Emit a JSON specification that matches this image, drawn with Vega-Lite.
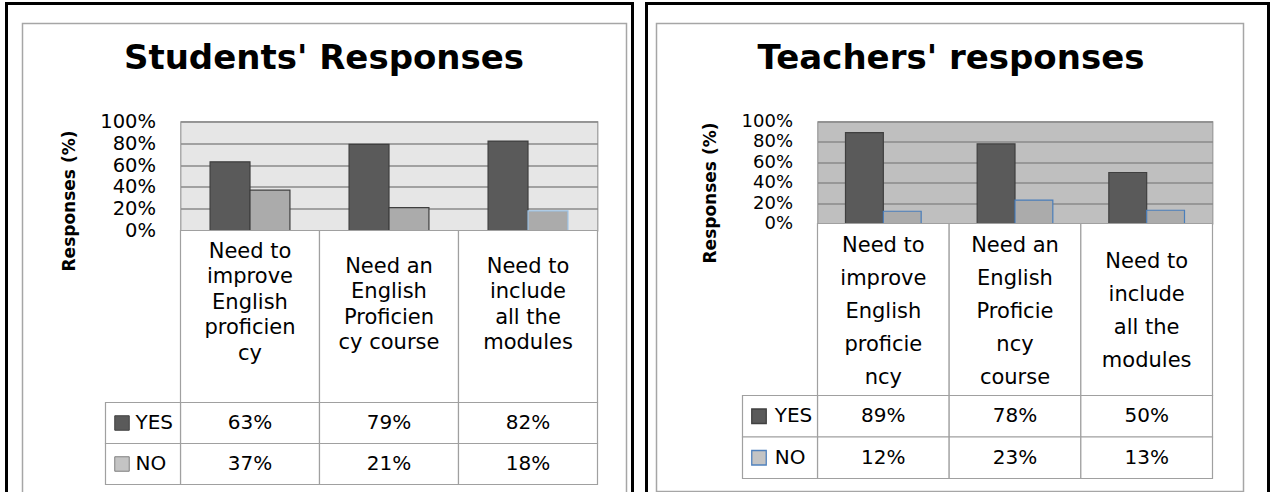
{
  "$schema": "https://vega.github.io/schema/vega-lite/v6.json",
  "background": "white",
  "autosize": {"type": "pad"},
  "padding": {"left": 3.5, "top": 0.5, "right": 0, "bottom": 0},
  "bounds": "flush",
  "spacing": 220,
  "config": {
    "font": "DejaVu Sans",
    "text": {"font": "DejaVu Sans", "color": "black"}
  },
  "datasets": {
    "students": [
      {"cat": "Need to improve English proficiency", "series": "YES", "value": 0.63},
      {"cat": "Need an English Proficiency course", "series": "YES", "value": 0.79},
      {"cat": "Need to include all the modules", "series": "YES", "value": 0.82},
      {"cat": "Need to improve English proficiency", "series": "NO", "value": 0.37},
      {"cat": "Need an English Proficiency course", "series": "NO", "value": 0.21},
      {"cat": "Need to include all the modules", "series": "NO", "value": 0.18}
    ],
    "teachers": [
      {"cat": "Need to improve English proficiency", "series": "YES", "value": 0.89},
      {"cat": "Need an English Proficiency course", "series": "YES", "value": 0.78},
      {"cat": "Need to include all the modules", "series": "YES", "value": 0.50},
      {"cat": "Need to improve English proficiency", "series": "NO", "value": 0.12},
      {"cat": "Need an English Proficiency course", "series": "NO", "value": 0.23},
      {"cat": "Need to include all the modules", "series": "NO", "value": 0.13}
    ],
    "catsS": [
      {"cat": "Need to improve English proficiency", "label": "Need to\nimprove\nEnglish\nproficien\ncy"},
      {"cat": "Need an English Proficiency course", "label": "Need an\nEnglish\nProficien\ncy course"},
      {"cat": "Need to include all the modules", "label": "Need to\ninclude\nall the\nmodules"}
    ],
    "catsT": [
      {"cat": "Need to improve English proficiency", "label": "Need to\nimprove\nEnglish\nproficie\nncy"},
      {"cat": "Need an English Proficiency course", "label": "Need an\nEnglish\nProficie\nncy\ncourse"},
      {"cat": "Need to include all the modules", "label": "Need to\ninclude\nall the\nmodules"}
    ],
    "series": [{"series": "YES", "col": "legend"}, {"series": "NO", "col": "legend"}],
    "box": [{"box": "b"}]
  },
  "hconcat": [
    {
      "width": 417,
      "height": 109,
      "view": {"fill": "#E6E6E6", "stroke": "#9A9A9A", "strokeWidth": 1.2},
      "title": {"text": "Students' Responses", "font": "DejaVu Sans", "fontSize": 34, "fontWeight": "bold", "color": "black", "anchor": "middle", "baseline": "alphabetic", "offset": -101, "dx": -65},
      "resolve": {"scale": {"x": "independent", "y": "independent", "xOffset": "independent", "color": "independent", "fill": "independent", "stroke": "independent"}, "axis": {"x": "independent", "y": "independent"}},
      "layer": [
        {
          "data": {"name": "box"},
          "mark": {"type": "rect", "fill": null, "fillOpacity": 0, "stroke": "black", "strokeWidth": 3},
          "encoding": {
            "x": {"field": "box", "type": "nominal", "axis": null, "scale": {"domain": ["b"], "range": [-174, 452], "paddingInner": 0, "paddingOuter": 0}},
            "y": {"field": "box", "type": "nominal", "axis": null, "scale": {"domain": ["b"], "range": [-118, 420], "paddingInner": 0, "paddingOuter": 0}}
          }
        },
        {
          "data": {"name": "box"},
          "mark": {"type": "rect", "fill": null, "fillOpacity": 0, "stroke": "#A6A6A6", "strokeWidth": 1.5},
          "encoding": {
            "x": {"field": "box", "type": "nominal", "axis": null, "scale": {"domain": ["b"], "range": [-158, 446], "paddingInner": 0, "paddingOuter": 0}},
            "y": {"field": "box", "type": "nominal", "axis": null, "scale": {"domain": ["b"], "range": [-98, 420], "paddingInner": 0, "paddingOuter": 0}}
          }
        },
        {
          "data": {"name": "students"},
          "mark": {"type": "bar", "strokeWidth": 1.2},
          "encoding": {
            "x": {"field": "cat", "type": "nominal", "axis": null, "scale": {"domain": ["Need to improve English proficiency", "Need an English Proficiency course", "Need to include all the modules"], "paddingInner": 0, "paddingOuter": 0}},
            "xOffset": {"field": "series", "type": "nominal", "scale": {"domain": ["YES", "NO"], "paddingInner": 0, "paddingOuter": 0.74}},
            "y": {"field": "value", "type": "quantitative", "scale": {"domain": [0, 1]},
              "axis": {"title": "Responses (%)", "format": ".0%", "values": [0, 0.2, 0.4, 0.6, 0.8, 1], "grid": true, "gridColor": "#8A8A8A", "gridWidth": 1.3, "domain": false, "ticks": false, "tickSize": 0, "labelPadding": 25, "labelFont": "DejaVu Sans", "labelFontSize": 19.5, "labelColor": "black", "labelFlush": false, "labelOverlap": false, "titleFont": "DejaVu Sans", "titleFontSize": 17, "titleFontWeight": "bold", "titleColor": "black", "titleX": -111, "titleY": 79, "titleAngle": -90, "titleAlign": "center", "titleBaseline": "middle"}},
            "color": {"field": "series", "type": "nominal", "legend": null, "scale": {"domain": ["YES", "NO"], "range": ["#5A5A5A", "#ABABAB"]}},
            "stroke": {"condition": [{"test": "datum.series === 'NO' && datum.cat === 'Need to include all the modules'", "value": "#9DC3E6"}], "value": "#3F3F3F"}
          }
        },
        {
          "data": {"name": "catsS"},
          "mark": {"type": "rect", "fill": "white", "stroke": "#A0A0A0", "strokeWidth": 1.2},
          "encoding": {
            "x": {"field": "cat", "type": "nominal", "axis": null, "scale": {"domain": ["Need to improve English proficiency", "Need an English Proficiency course", "Need to include all the modules"], "paddingInner": 0, "paddingOuter": 0}},
            "y": {"datum": "h", "type": "nominal", "axis": null, "scale": {"domain": ["h"], "range": [109, 281], "paddingInner": 0, "paddingOuter": 0}}
          }
        },
        {
          "data": {"name": "catsS"},
          "transform": [{"filter": "length(split(datum.label, '\\n')) == 5"}],
          "mark": {"type": "text", "fontSize": 21, "lineHeight": 25.5, "lineBreak": "\n", "align": "center", "baseline": "middle", "dy": -65, "color": "black"},
          "encoding": {
            "x": {"field": "cat", "type": "nominal", "axis": null, "scale": {"type": "band", "domain": ["Need to improve English proficiency", "Need an English Proficiency course", "Need to include all the modules"], "paddingInner": 0, "paddingOuter": 0}},
            "y": {"datum": "h", "type": "nominal", "axis": null, "scale": {"type": "band", "domain": ["h"], "range": [109, 281], "paddingInner": 0, "paddingOuter": 0}},
            "text": {"field": "label", "type": "nominal"}
          }
        },
        {
          "data": {"name": "catsS"},
          "transform": [{"filter": "length(split(datum.label, '\\n')) == 4"}],
          "mark": {"type": "text", "fontSize": 21, "lineHeight": 25.5, "lineBreak": "\n", "align": "center", "baseline": "middle", "dy": -50, "color": "black"},
          "encoding": {
            "x": {"field": "cat", "type": "nominal", "axis": null, "scale": {"type": "band", "domain": ["Need to improve English proficiency", "Need an English Proficiency course", "Need to include all the modules"], "paddingInner": 0, "paddingOuter": 0}},
            "y": {"datum": "h", "type": "nominal", "axis": null, "scale": {"type": "band", "domain": ["h"], "range": [109, 281], "paddingInner": 0, "paddingOuter": 0}},
            "text": {"field": "label", "type": "nominal"}
          }
        },
        {
          "data": {"name": "students"},
          "mark": {"type": "rect", "fill": "white", "stroke": "#A0A0A0", "strokeWidth": 1.2},
          "encoding": {
            "x": {"field": "cat", "type": "nominal", "axis": null, "scale": {"domain": ["Need to improve English proficiency", "Need an English Proficiency course", "Need to include all the modules"], "paddingInner": 0, "paddingOuter": 0}},
            "y": {"field": "series", "type": "nominal", "axis": null, "scale": {"domain": ["YES", "NO"], "range": [281, 363], "paddingInner": 0, "paddingOuter": 0}}
          }
        },
        {
          "data": {"name": "students"},
          "mark": {"type": "text", "fontSize": 20, "align": "center", "baseline": "middle", "color": "black"},
          "encoding": {
            "x": {"field": "cat", "type": "nominal", "axis": null, "scale": {"type": "band", "domain": ["Need to improve English proficiency", "Need an English Proficiency course", "Need to include all the modules"], "paddingInner": 0, "paddingOuter": 0}},
            "y": {"field": "series", "type": "nominal", "axis": null, "scale": {"type": "band", "domain": ["YES", "NO"], "range": [281, 363], "paddingInner": 0, "paddingOuter": 0}},
            "text": {"field": "value", "type": "quantitative", "format": ".0%"}
          }
        },
        {
          "data": {"name": "series"},
          "mark": {"type": "rect", "fill": "white", "stroke": "#A0A0A0", "strokeWidth": 1.2},
          "encoding": {
            "x": {"field": "col", "type": "nominal", "axis": null, "scale": {"domain": ["legend"], "range": [-75, 0], "paddingInner": 0, "paddingOuter": 0}},
            "y": {"field": "series", "type": "nominal", "axis": null, "scale": {"domain": ["YES", "NO"], "range": [281, 363], "paddingInner": 0, "paddingOuter": 0}}
          }
        },
        {
          "data": {"name": "series"},
          "mark": {"type": "point", "shape": "square", "filled": true, "size": 210, "strokeWidth": 1, "opacity": 1},
          "encoding": {
            "x": {"field": "col", "type": "nominal", "bandPosition": 0.22, "axis": null, "scale": {"type": "band", "domain": ["legend"], "range": [-75, 0], "paddingInner": 0, "paddingOuter": 0}},
            "y": {"field": "series", "type": "nominal", "axis": null, "scale": {"type": "band", "domain": ["YES", "NO"], "range": [281, 363], "paddingInner": 0, "paddingOuter": 0}},
            "fill": {"field": "series", "type": "nominal", "legend": null, "scale": {"domain": ["YES", "NO"], "range": ["#5A5A5A", "#C4C4C4"]}},
            "stroke": {"field": "series", "type": "nominal", "legend": null, "scale": {"domain": ["YES", "NO"], "range": ["#404040", "#7F7F7F"]}}
          }
        },
        {
          "data": {"name": "series"},
          "mark": {"type": "text", "fontSize": 20, "align": "left", "baseline": "middle", "color": "black"},
          "encoding": {
            "x": {"field": "col", "type": "nominal", "bandPosition": 0.4, "axis": null, "scale": {"type": "band", "domain": ["legend"], "range": [-75, 0], "paddingInner": 0, "paddingOuter": 0}},
            "y": {"field": "series", "type": "nominal", "axis": null, "scale": {"type": "band", "domain": ["YES", "NO"], "range": [281, 363], "paddingInner": 0, "paddingOuter": 0}},
            "text": {"field": "series", "type": "nominal"}
          }
        }
      ]
    },
    {
      "width": 395,
      "height": 102,
      "view": {"fill": "#BFBFBF", "stroke": "#9A9A9A", "strokeWidth": 1.2},
      "title": {"text": "Teachers' responses", "font": "DejaVu Sans", "fontSize": 34, "fontWeight": "bold", "color": "black", "anchor": "middle", "baseline": "alphabetic", "offset": -101, "dx": -64},
      "resolve": {"scale": {"x": "independent", "y": "independent", "xOffset": "independent", "color": "independent", "fill": "independent", "stroke": "independent"}, "axis": {"x": "independent", "y": "independent"}},
      "layer": [
        {
          "data": {"name": "box"},
          "mark": {"type": "rect", "fill": null, "fillOpacity": 0, "stroke": "black", "strokeWidth": 3},
          "encoding": {
            "x": {"field": "box", "type": "nominal", "axis": null, "scale": {"domain": ["b"], "range": [-171, 451], "paddingInner": 0, "paddingOuter": 0}},
            "y": {"field": "box", "type": "nominal", "axis": null, "scale": {"domain": ["b"], "range": [-118, 420], "paddingInner": 0, "paddingOuter": 0}}
          }
        },
        {
          "data": {"name": "box"},
          "mark": {"type": "rect", "fill": null, "fillOpacity": 0, "stroke": "#A6A6A6", "strokeWidth": 1.5},
          "encoding": {
            "x": {"field": "box", "type": "nominal", "axis": null, "scale": {"domain": ["b"], "range": [-161, 426], "paddingInner": 0, "paddingOuter": 0}},
            "y": {"field": "box", "type": "nominal", "axis": null, "scale": {"domain": ["b"], "range": [-98, 370], "paddingInner": 0, "paddingOuter": 0}}
          }
        },
        {
          "data": {"name": "teachers"},
          "mark": {"type": "bar", "strokeWidth": 1.2},
          "encoding": {
            "x": {"field": "cat", "type": "nominal", "axis": null, "scale": {"domain": ["Need to improve English proficiency", "Need an English Proficiency course", "Need to include all the modules"], "paddingInner": 0, "paddingOuter": 0}},
            "xOffset": {"field": "series", "type": "nominal", "scale": {"domain": ["YES", "NO"], "paddingInner": 0, "paddingOuter": 0.74}},
            "y": {"field": "value", "type": "quantitative", "scale": {"domain": [0, 1]},
              "axis": {"title": "Responses (%)", "format": ".0%", "values": [0, 0.2, 0.4, 0.6, 0.8, 1], "grid": true, "gridColor": "#8A8A8A", "gridWidth": 1.3, "domain": false, "ticks": false, "tickSize": 0, "labelPadding": 25, "labelFont": "DejaVu Sans", "labelFontSize": 18, "labelColor": "black", "labelFlush": false, "labelOverlap": false, "titleFont": "DejaVu Sans", "titleFontSize": 17, "titleFontWeight": "bold", "titleColor": "black", "titleX": -107, "titleY": 71, "titleAngle": -90, "titleAlign": "center", "titleBaseline": "middle"}},
            "color": {"field": "series", "type": "nominal", "legend": null, "scale": {"domain": ["YES", "NO"], "range": ["#5A5A5A", "#ABABAB"]}},
            "stroke": {"field": "series", "type": "nominal", "legend": null, "scale": {"domain": ["YES", "NO"], "range": ["#3F3F3F", "#4A7EBB"]}}
          }
        },
        {
          "data": {"name": "catsT"},
          "mark": {"type": "rect", "fill": "white", "stroke": "#A0A0A0", "strokeWidth": 1.2},
          "encoding": {
            "x": {"field": "cat", "type": "nominal", "axis": null, "scale": {"domain": ["Need to improve English proficiency", "Need an English Proficiency course", "Need to include all the modules"], "paddingInner": 0, "paddingOuter": 0}},
            "y": {"datum": "h", "type": "nominal", "axis": null, "scale": {"domain": ["h"], "range": [102, 274], "paddingInner": 0, "paddingOuter": 0}}
          }
        },
        {
          "data": {"name": "catsT"},
          "transform": [{"filter": "length(split(datum.label, '\\n')) == 5"}],
          "mark": {"type": "text", "fontSize": 21, "lineHeight": 33, "lineBreak": "\n", "align": "center", "baseline": "middle", "dy": -64, "color": "black"},
          "encoding": {
            "x": {"field": "cat", "type": "nominal", "axis": null, "scale": {"type": "band", "domain": ["Need to improve English proficiency", "Need an English Proficiency course", "Need to include all the modules"], "paddingInner": 0, "paddingOuter": 0}},
            "y": {"datum": "h", "type": "nominal", "axis": null, "scale": {"type": "band", "domain": ["h"], "range": [102, 274], "paddingInner": 0, "paddingOuter": 0}},
            "text": {"field": "label", "type": "nominal"}
          }
        },
        {
          "data": {"name": "catsT"},
          "transform": [{"filter": "length(split(datum.label, '\\n')) == 4"}],
          "mark": {"type": "text", "fontSize": 21, "lineHeight": 33, "lineBreak": "\n", "align": "center", "baseline": "middle", "dy": -48, "color": "black"},
          "encoding": {
            "x": {"field": "cat", "type": "nominal", "axis": null, "scale": {"type": "band", "domain": ["Need to improve English proficiency", "Need an English Proficiency course", "Need to include all the modules"], "paddingInner": 0, "paddingOuter": 0}},
            "y": {"datum": "h", "type": "nominal", "axis": null, "scale": {"type": "band", "domain": ["h"], "range": [102, 274], "paddingInner": 0, "paddingOuter": 0}},
            "text": {"field": "label", "type": "nominal"}
          }
        },
        {
          "data": {"name": "teachers"},
          "mark": {"type": "rect", "fill": "white", "stroke": "#A0A0A0", "strokeWidth": 1.2},
          "encoding": {
            "x": {"field": "cat", "type": "nominal", "axis": null, "scale": {"domain": ["Need to improve English proficiency", "Need an English Proficiency course", "Need to include all the modules"], "paddingInner": 0, "paddingOuter": 0}},
            "y": {"field": "series", "type": "nominal", "axis": null, "scale": {"domain": ["YES", "NO"], "range": [274, 357], "paddingInner": 0, "paddingOuter": 0}}
          }
        },
        {
          "data": {"name": "teachers"},
          "mark": {"type": "text", "fontSize": 20, "align": "center", "baseline": "middle", "color": "black"},
          "encoding": {
            "x": {"field": "cat", "type": "nominal", "axis": null, "scale": {"type": "band", "domain": ["Need to improve English proficiency", "Need an English Proficiency course", "Need to include all the modules"], "paddingInner": 0, "paddingOuter": 0}},
            "y": {"field": "series", "type": "nominal", "axis": null, "scale": {"type": "band", "domain": ["YES", "NO"], "range": [274, 357], "paddingInner": 0, "paddingOuter": 0}},
            "text": {"field": "value", "type": "quantitative", "format": ".0%"}
          }
        },
        {
          "data": {"name": "series"},
          "mark": {"type": "rect", "fill": "white", "stroke": "#A0A0A0", "strokeWidth": 1.2},
          "encoding": {
            "x": {"field": "col", "type": "nominal", "axis": null, "scale": {"domain": ["legend"], "range": [-75, 0], "paddingInner": 0, "paddingOuter": 0}},
            "y": {"field": "series", "type": "nominal", "axis": null, "scale": {"domain": ["YES", "NO"], "range": [274, 357], "paddingInner": 0, "paddingOuter": 0}}
          }
        },
        {
          "data": {"name": "series"},
          "mark": {"type": "point", "shape": "square", "filled": true, "size": 210, "strokeWidth": 1.3, "opacity": 1},
          "encoding": {
            "x": {"field": "col", "type": "nominal", "bandPosition": 0.22, "axis": null, "scale": {"type": "band", "domain": ["legend"], "range": [-75, 0], "paddingInner": 0, "paddingOuter": 0}},
            "y": {"field": "series", "type": "nominal", "axis": null, "scale": {"type": "band", "domain": ["YES", "NO"], "range": [274, 357], "paddingInner": 0, "paddingOuter": 0}},
            "fill": {"field": "series", "type": "nominal", "legend": null, "scale": {"domain": ["YES", "NO"], "range": ["#5A5A5A", "#C4C4C4"]}},
            "stroke": {"field": "series", "type": "nominal", "legend": null, "scale": {"domain": ["YES", "NO"], "range": ["#404040", "#4F81BD"]}}
          }
        },
        {
          "data": {"name": "series"},
          "mark": {"type": "text", "fontSize": 20, "align": "left", "baseline": "middle", "color": "black"},
          "encoding": {
            "x": {"field": "col", "type": "nominal", "bandPosition": 0.43, "axis": null, "scale": {"type": "band", "domain": ["legend"], "range": [-75, 0], "paddingInner": 0, "paddingOuter": 0}},
            "y": {"field": "series", "type": "nominal", "axis": null, "scale": {"type": "band", "domain": ["YES", "NO"], "range": [274, 357], "paddingInner": 0, "paddingOuter": 0}},
            "text": {"field": "series", "type": "nominal"}
          }
        }
      ]
    }
  ]
}
